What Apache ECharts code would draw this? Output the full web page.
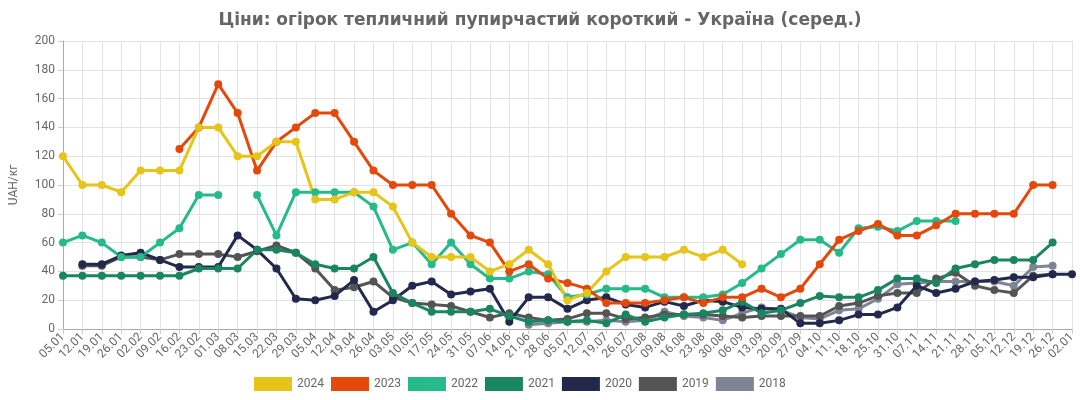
<!DOCTYPE html>
<html>
<head>
<meta charset="utf-8">
<title>Ціни: огірок тепличний</title>
<script src="https://cdn.jsdelivr.net/npm/echarts@6/dist/echarts.min.js"></script>
<style>
  html, body { margin: 0; padding: 0; background: #fff; }
  #chart { width: 1080px; height: 400px; }
</style>
</head>
<body>
<div id="chart"></div>
<script>
// тижні (підписи осі X)
const weeks = ['05.01','12.01','19.01','26.01','02.02','09.02','16.02','23.02','01.03','08.03',
  '15.03','22.03','29.03','05.04','12.04','19.04','26.04','03.05','10.05','17.05',
  '24.05','31.05','07.06','14.06','21.06','28.06','05.07','12.07','19.07','26.07',
  '02.08','09.08','16.08','23.08','30.08','06.09','13.09','20.09','27.09','04.10',
  '11.10','18.10','25.10','31.10','07.11','14.11','21.11','28.11','05.12','12.12',
  '19.12','26.12','02.01'];

const _ = null;
// ціни по роках, UAH/кг
const y2024 = [120,100,100,95,110,110,110,140,140,120,120,130,130,90,90,95,95,85,60,50,
  50,50,40,45,55,45,20,25,40,50,50,50,55,50,55,45,_,_,_,_,_,_,_,_,_,_,_,_,_,_,_,_,_];
const y2023 = [_,_,_,_,_,_,125,140,170,150,110,130,140,150,150,130,110,100,100,100,
  80,65,60,40,45,35,32,28,18,18,18,20,22,18,22,22,28,22,28,45,62,68,73,65,65,72,80,80,80,80,100,100,_];
const y2022 = [60,65,60,50,50,60,70,93,93,_,93,65,95,95,95,95,85,55,60,45,
  60,45,35,35,40,38,22,24,28,28,28,22,22,22,24,32,42,52,62,62,53,70,71,68,75,75,75,_,_,_,_,_,_];
const y2021 = [37,37,37,37,37,37,37,42,42,42,55,55,53,45,42,42,50,25,18,12,
  12,12,14,9,5,6,5,6,4,10,5,8,10,11,13,19,11,13,18,23,22,22,27,35,35,32,42,45,48,48,48,60,_];
const y2020 = [_,45,45,51,53,48,43,43,43,65,55,42,21,20,23,34,12,20,30,33,
  24,26,28,5,22,22,14,20,22,17,15,19,16,20,19,15,14,14,4,4,6,10,10,15,30,25,28,33,34,36,36,38,38];
const y2019 = [_,44,44,50,50,48,52,52,52,50,54,58,53,42,27,29,33,22,18,17,
  16,12,8,11,8,6,7,11,11,7,8,10,10,10,9,8,9,9,9,9,16,18,23,25,25,35,39,30,27,25,37,38,_];
const y2018 = [_,_,_,_,_,_,_,_,_,_,_,_,_,_,_,_,_,_,_,_,
  _,_,_,_,3,4,5,5,6,5,6,12,9,8,6,11,15,13,8,7,13,14,21,31,32,33,33,33,33,30,43,44,_];

const years = ['2024','2023','2022','2021','2020','2019','2018'];
const values = [y2024, y2023, y2022, y2021, y2020, y2019, y2018];
const colors = ['#e6c419','#e4480a','#26ba8a','#1a8661','#22294c','#545454','#7e8494'];

const myChart = echarts.init(document.getElementById('chart'));

// серії у зворотному порядку, щоб 2024 малювався зверху
const series = [];
for (let k = years.length - 1; k >= 0; k--) {
  series.push({
    name: years[k],
    type: 'line',
    data: values[k],
    symbol: 'circle',
    symbolSize: 8,
    showSymbol: true,
    color: colors[k],
    lineStyle: { width: 3, color: colors[k] },
    itemStyle: { color: colors[k] },
    connectNulls: false
  });
}

myChart.setOption({
  animation: false,
  textStyle: { fontFamily: 'Roboto' },
  title: {
    text: 'Ціни: огірок тепличний пупирчастий короткий - Україна (серед.)',
    left: 'center',
    top: 7,
    textStyle: { fontSize: 17, fontWeight: 'bold', color: '#666', fontFamily: 'DejaVu Sans' }
  },
  legend: {
    data: years,
    bottom: 4,
    left: 249,
    icon: 'rect',
    itemWidth: 38,
    itemHeight: 14,
    itemGap: 7,
    textStyle: { fontSize: 12, color: '#666' }
  },
  grid: { left: 58, right: 8, top: 41, bottom: 71 },
  xAxis: {
    type: 'category',
    data: weeks,
    boundaryGap: false,
    axisLine: { lineStyle: { color: '#aaa' } },
    axisTick: { show: true, interval: 0, length: 5, lineStyle: { color: '#ccc' } },
    axisLabel: { interval: 0, rotate: 45, fontSize: 12, color: '#666', margin: 6 },
    splitLine: { show: true, interval: 0, lineStyle: { color: '#e3e3e3' } }
  },
  yAxis: {
    type: 'value',
    min: 0,
    max: 200,
    interval: 20,
    name: 'UAH/кг',
    nameLocation: 'middle',
    nameGap: 43,
    nameTextStyle: { fontSize: 12, color: '#666' },
    axisLine: { show: true, lineStyle: { color: '#aaa' } },
    axisTick: { show: true, length: 5, lineStyle: { color: '#ccc' } },
    axisLabel: { fontSize: 12, color: '#666', margin: 8 },
    splitLine: { lineStyle: { color: '#e3e3e3' } }
  },
  series: series
});
</script>
</body>
</html>
